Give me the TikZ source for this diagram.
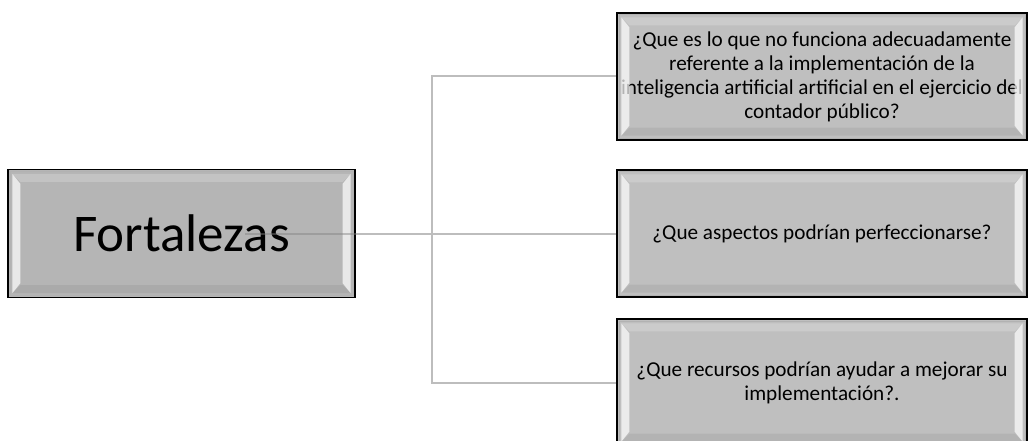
\documentclass[tikz,border=0pt]{standalone}
\usepackage{fontspec}
\setmainfont{Carlito}
\usetikzlibrary{calc}
\definecolor{mainfill}{HTML}{B5B5B5}
\definecolor{qfill}{HTML}{BFBFBF}
\definecolor{connc}{HTML}{BDBDBD}
\tikzset{
  boxbase/.style={draw=black, line width=1.4pt, inner xsep=1pt, inner ysep=4pt, align=center},
  mainbox/.style={boxbase, fill=mainfill, minimum width=347pt, minimum height=128pt, font=\fontsize{53}{64}\selectfont},
  qbox/.style={boxbase, fill=qfill, minimum width=410pt, minimum height=127pt, font=\fontsize{21.2}{24}\selectfont},
  conn/.style={draw=connc, line width=2pt},
  stubline/.style={draw=gray, line width=2pt, opacity=0.45},
  hilite/.style={fill=white, opacity=0.7},
  toplite/.style={fill=white, opacity=0.2},
  botshade/.style={fill=black, opacity=0.06}
}
\newcommand{\bevelbox}[1]{%
  \fill[hilite] ($(#1.north west)+(5,5)$) -- ($(#1.north west)+(13,15)$) -- ($(#1.south west)+(13,-15)$) -- ($(#1.south west)+(5,-5)$) -- cycle;
  \fill[hilite] ($(#1.north east)+(-5,5)$) -- ($(#1.north east)+(-13,15)$) -- ($(#1.south east)+(-13,-15)$) -- ($(#1.south east)+(-5,-5)$) -- cycle;
  \fill[toplite] ($(#1.north west)+(5,5)$) -- ($(#1.north east)+(-5,5)$) -- ($(#1.north east)+(-13,13)$) -- ($(#1.north west)+(13,13)$) -- cycle;
  \fill[botshade] ($(#1.south west)+(5,-5)$) -- ($(#1.south east)+(-5,-5)$) -- ($(#1.south east)+(-13,-13)$) -- ($(#1.south west)+(13,-13)$) -- cycle;
  \draw[line width=0.6pt, draw=gray!60] ($(#1.north west)+(2.5,2.5)$) rectangle ($(#1.south east)+(-2.5,-2.5)$);
}
\begin{document}
\begin{tikzpicture}[x=1pt,y=-1pt]
\useasboundingbox (0,0) rectangle (1029,441);
\clip (0,0) rectangle (1029,441);
\fill[white] (0,0) rectangle (1029,441);
\coordinate (j) at (432,233.5);
\coordinate (stub) at (245,233.5);
\node[mainbox] (main) at (181.5,233.5) {Fortalezas};
\node[qbox] (q1) at (822,76.5) {¿Que es lo que no funciona adecuadamente\\referente a la implementación de la\\inteligencia artificial artificial en el ejercicio del\\contador público?};
\node[qbox] (q2) at (822,233.5) {¿Que aspectos podrían perfeccionarse?};
\node[qbox] (q3) at (822,382.5) {¿Que recursos podrían ayudar a mejorar su\\implementación?.};
\bevelbox{main}
\bevelbox{q1}
\bevelbox{q2}
\bevelbox{q3}
\draw[conn] (main.east) -- (j);
\draw[conn] (j) |- (q1.west);
\draw[conn] (j) -- (q2.west);
\draw[conn] (j) |- (q3.west);
\draw[stubline] (stub) -- (main.east);
\end{tikzpicture}
\end{document}
